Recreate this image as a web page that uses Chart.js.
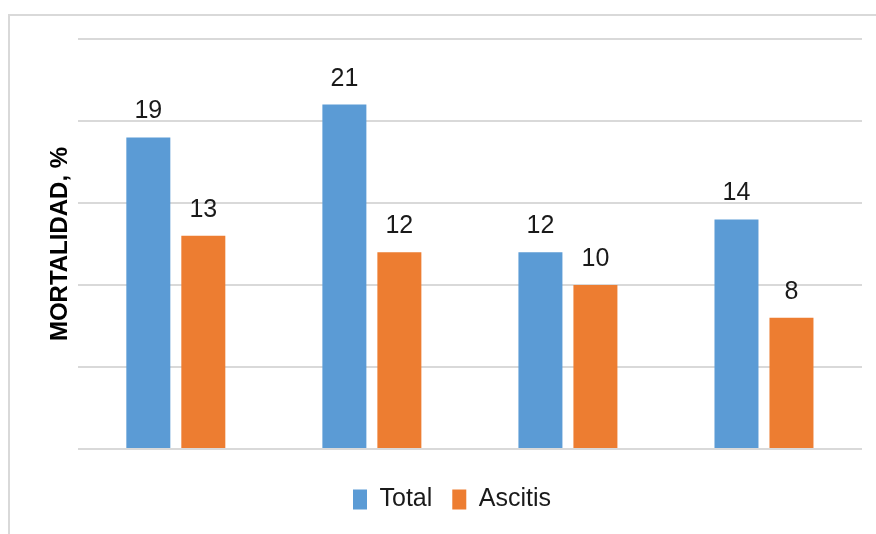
<!DOCTYPE html>
<html lang="es">
<head>
  <meta charset="UTF-8">
  <title>Mortalidad</title>
  <script src="https://cdn.jsdelivr.net/npm/chart.js"></script>
  <style>
    body { margin: 0; background: #fff; overflow: hidden; }
    .frame { position: absolute; left: 8px; top: 14px; width: 900px; height: 560px; border: 2px solid #d9d9d9; }
    .wrap { position: absolute; left: 0; top: 0; width: 876px; height: 534px; }
  </style>
</head>
<body>
  <div class="frame"></div>
  <div class="wrap"><canvas id="chart"></canvas></div>

  <script>
    // grupos (sin etiqueta visible en el original)
    const categories = ['', '', '', ''];
    const totalValues = [19, 21, 12, 14];
    const ascitisValues = [13, 12, 10, 8];
    const yTicks = [0, 5, 10, 15, 20, 25];

    const FONT = 'Liberation Sans, Arial, sans-serif';

    // etiquetas de valor encima de cada barra
    const valueLabels = {
      id: 'valueLabels',
      afterDatasetsDraw(chart) {
        const ctx = chart.ctx;
        ctx.save();
        ctx.font = '25px ' + FONT;
        ctx.fillStyle = '#1a1a1a';
        ctx.textAlign = 'center';
        ctx.textBaseline = 'alphabetic';
        chart.data.datasets.forEach((ds, i) => {
          chart.getDatasetMeta(i).data.forEach((bar, j) => {
            ctx.fillText(ds.data[j], bar.x, bar.y - 19);
          });
        });
        ctx.restore();
      }
    };

    new Chart(document.getElementById('chart'), {
      type: 'bar',
      data: {
        labels: categories,
        datasets: [
          { label: 'Total', data: totalValues, backgroundColor: '#5b9bd5' },
          { label: 'Ascitis', data: ascitisValues, backgroundColor: '#ed7d31' }
        ]
      },
      options: {
        responsive: true,
        maintainAspectRatio: false,
        animation: false,
        categoryPercentage: 0.561,
        barPercentage: 0.8,
        layout: { padding: { left: 42, right: 14, top: 39, bottom: 12 } },
        scales: {
          x: {
            ticks: { display: false },
            grid: { display: false, drawTicks: false },
            border: { display: false },
            afterFit: s => { s.height = 18; }
          },
          y: {
            min: yTicks[0],
            max: yTicks[yTicks.length - 1],
            afterBuildTicks: s => { s.ticks = yTicks.map(v => ({ value: v })); },
            ticks: { display: false },
            grid: { color: '#d9d9d9', lineWidth: 2, drawTicks: false },
            border: { display: false },
            title: {
              display: true,
              text: 'MORTALIDAD, %',
              color: '#000',
              font: { family: FONT, size: 24, weight: 'bold' },
              padding: { top: 4, bottom: 3 }
            }
          }
        },
        plugins: {
          legend: {
            position: 'bottom',
            labels: {
              boxWidth: 14,
              boxHeight: 20,
              padding: 20,
              color: '#1a1a1a',
              font: { family: FONT, size: 25 }
            }
          },
          tooltip: { enabled: false }
        }
      },
      plugins: [valueLabels]
    });
  </script>
</body>
</html>
